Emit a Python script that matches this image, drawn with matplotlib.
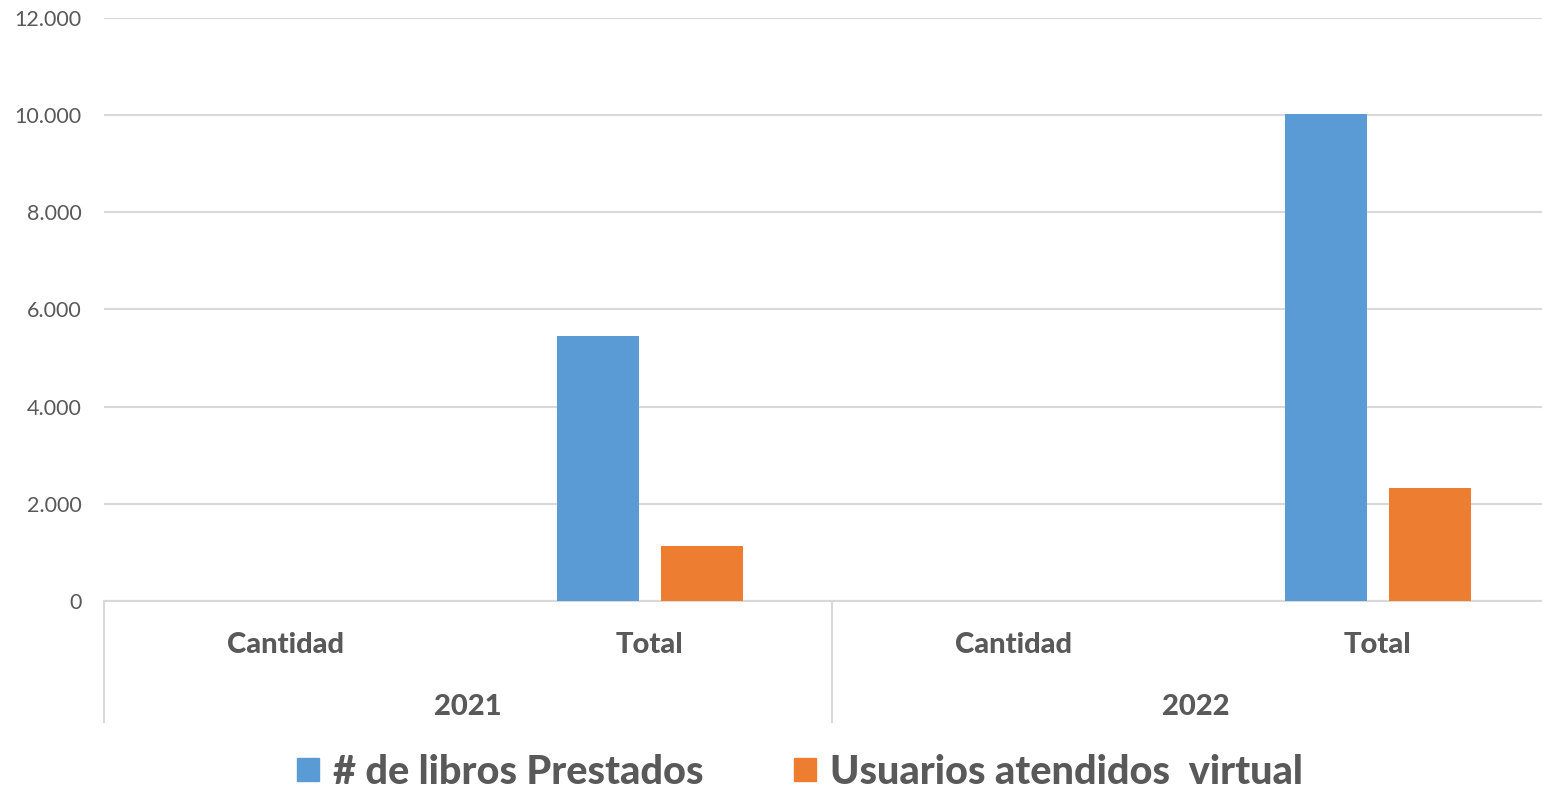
import matplotlib
matplotlib.use("Agg")
import matplotlib.pyplot as plt
import matplotlib.transforms as mtransforms
from matplotlib.patches import Patch
from matplotlib.ticker import FuncFormatter, MultipleLocator
import numpy as np

# ---- data ----
categories = ["Cantidad", "Total", "Cantidad", "Total"]
years = ["2021", "2022"]
series_names = ["# de libros Prestados", "Usuarios atendidos  virtual"]
libros = [0, 5450, 0, 10020]
usuarios = [0, 1130, 0, 2325]

blue = "#5B9BD5"
orange = "#ED7D31"
txt = "#595959"
grid = "#D9D9D9"
font = "Lato"

W, H = 1542, 790
fig = plt.figure(figsize=(W / 100, H / 100), dpi=100)
left_px, right_px, top_px, bottom_px = 104, 1560, 18, 601
ax = fig.add_axes([left_px / W, (H - bottom_px) / H,
                   (right_px - left_px) / W, (bottom_px - top_px) / H])

x = np.arange(len(categories))
bw = 0.223
off = 0.143
ax.bar(x - off, libros, bw, color=blue, zorder=3)
ax.bar(x + off, usuarios, bw, color=orange, zorder=3)

ax.set_xlim(-0.5, len(categories) - 0.5)
ax.set_ylim(0, 12000)
ax.yaxis.set_major_locator(MultipleLocator(2000))
ax.yaxis.set_major_formatter(FuncFormatter(lambda v, p: f"{int(v):,}".replace(",", ".")))
ax.grid(axis="y", color=grid, lw=1.5, zorder=0)
ax.set_axisbelow(True)
for s in ["top", "right", "left"]:
    ax.spines[s].set_visible(False)
ax.spines["bottom"].set_color(grid)
ax.spines["bottom"].set_linewidth(1.5)
ax.set_xticks([])
ax.tick_params(axis="y", length=0, pad=16, labelsize=15.5, labelcolor=txt)
for lab in ax.get_yticklabels():
    lab.set_fontfamily(font)

trans = mtransforms.blended_transform_factory(ax.transData, ax.transAxes)
ah = bottom_px - top_px
for i, c in enumerate(categories):
    ax.text(i, -(645 - bottom_px) / ah, c, transform=trans, ha="center", va="center",
            fontsize=21, fontweight="black", color=txt, family=font)
for j, y in enumerate(years):
    ax.text(2 * j + 0.5, -(707 - bottom_px) / ah, y, transform=trans, ha="center",
            va="center", fontsize=21, fontweight="black", color=txt, family=font)
for sx in [-0.5, 1.5, 3.5]:
    ax.plot([sx, sx], [0, -(722 - bottom_px) / ah], transform=trans, color=grid,
            lw=1.5, clip_on=False)

handles = [Patch(color=blue), Patch(color=orange)]
leg = fig.legend(handles, series_names, loc="center", bbox_to_anchor=(800 / W, 1 - 772 / H),
                 ncol=2, frameon=False, handlelength=0.55, handleheight=0.55,
                 handletextpad=0.35, columnspacing=2.3,
                 prop={"family": font, "weight": "black", "size": 28.5})
for t in leg.get_texts():
    t.set_color(txt)

fig.savefig("out.png", dpi=100)
